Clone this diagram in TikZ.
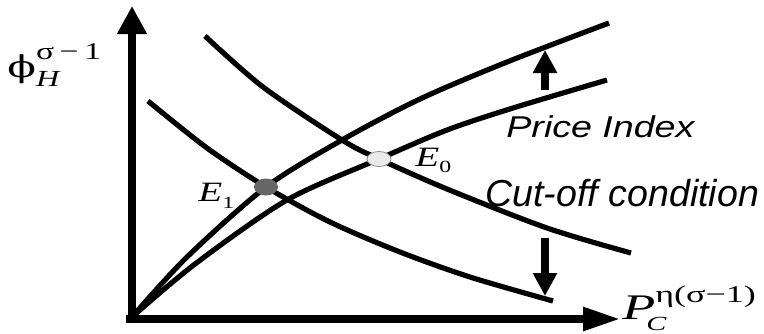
\documentclass[tikz,border=0pt]{standalone}
\usepackage{fontspec}
\setmainfont{Liberation Serif}
\newfontfamily\arialfont{Liberation Sans}
\newfontfamily\dvserif{DejaVu Serif}
\usetikzlibrary{arrows.meta,shapes.geometric}
\begin{document}
\begin{tikzpicture}[x=0.5pt,y=-0.5pt,
  curve/.style={line width=2.6pt,line cap=butt},
  axisline/.style={line width=4.2pt},
  shiftarrow/.style={line width=4.4pt,-{Triangle[width=11.5pt,length=11.5pt]}},
  lab/.style={inner sep=0pt,anchor=base west},
  curvelab/.style={inner sep=0pt,anchor=base west,font=\arialfont\itshape\fontsize{18.8}{20}\selectfont},
  eqpt/.style={ellipse,inner sep=0pt}]
\useasboundingbox (0,0) rectangle (764,333);
% axes
\coordinate (O) at (132,323);
\coordinate (Ox) at (126,319);
\coordinate (ytop) at (132,6);
\coordinate (xend) at (621,319);
\draw[axisline,-{Triangle[width=14pt,length=14pt]}] (O) -- (ytop);
\draw[axisline,-{Triangle[width=11pt,length=19pt]}] (Ox) -- (xend);
% price index curves (increasing)
\draw[curve] plot[smooth] coordinates {(132,317) (187,257) (266,187) (342,140) (420,99) (507,62) (609,23)};
\draw[curve] plot[smooth] coordinates {(132,317) (195,264) (287,200) (379,159) (447,130) (513,108) (607,80)};
% cut-off curves (decreasing)
\draw[curve] plot[smooth] coordinates {(205,36) (263,87) (342,140) (379,159) (447,189) (547,228) (631,253)};
\draw[curve] plot[smooth] coordinates {(148,101) (207,148) (266,187) (330,222) (400,252) (470,277) (553,301)};
% shift arrows
\coordinate (ua1) at (545,90);
\coordinate (ua2) at (545,50);
\coordinate (da1) at (545,238);
\coordinate (da2) at (545,296);
\draw[shiftarrow] (ua1) -- (ua2);
\draw[shiftarrow] (da1) -- (da2);
% equilibria
\node[eqpt,fill=black!60,minimum width=12pt,minimum height=8.5pt] (e1) at (266,187) {};
\node[eqpt,fill=black!8,draw=black!45,line width=0.4pt,minimum width=12pt,minimum height=7.5pt] (e0) at (379,159) {};
% labels
\node[lab] (le1) at (198,201) {\scalebox{1.4}[1]{\fontsize{14}{15}\selectfont\itshape E\raisebox{-3.5pt}{\upshape\fontsize{8.5}{9}\selectfont 1}}};
\node[lab] (le0) at (415,166) {\scalebox{1.4}[1]{\fontsize{14}{15}\selectfont\itshape E\raisebox{-3pt}{\upshape\fontsize{8.5}{9}\selectfont 0}}};
\node[curvelab] (pi) at (506,137) {\scalebox{1}[0.8]{Price Index}};
\node[curvelab] (co) at (485,206) {Cut-off condition};
\node[lab] (ylab) at (7,77) {\scalebox{1.4}[1]{{\dvserif\fontsize{15}{16}\selectfont ϕ}\raisebox{9pt}{\rlap{\fontsize{12}{13}\selectfont σ\,−\,1}}\raisebox{-4.5pt}{\fontsize{11.5}{12}\selectfont\itshape H}}};
\node[lab] (xlab) at (622,319) {\scalebox{1.5}[1]{\fontsize{18}{20}\selectfont\itshape P\raisebox{8.5pt}{\rlap{\upshape\fontsize{12}{13}\selectfont η(σ−1)}}\kern-3pt\raisebox{-5.5pt}{\fontsize{10}{11}\selectfont C}}};
\end{tikzpicture}
\end{document}
